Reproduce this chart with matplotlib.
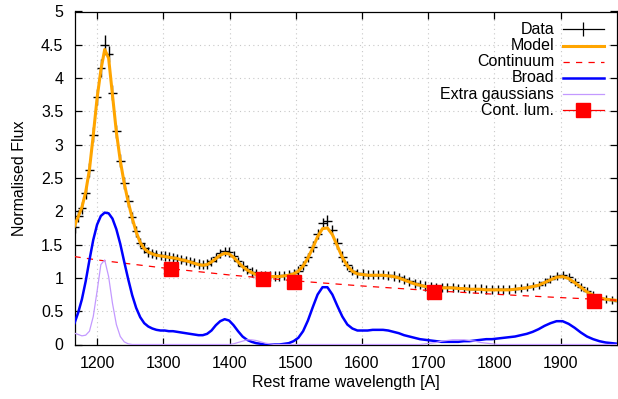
import matplotlib
matplotlib.use("Agg")
import matplotlib.pyplot as plt
from matplotlib.lines import Line2D

# ---------------------------------------------------------------------------
# Data
# ---------------------------------------------------------------------------

wave = [
    1166.0, 1171.6, 1177.2, 1182.9, 1188.6, 1194.3, 1200.1, 1205.8, 1211.6, 1217.5,
    1223.3, 1229.2, 1235.1, 1241.1, 1247.1, 1253.1, 1259.1, 1265.2, 1271.3, 1277.4,
    1283.5, 1289.7, 1295.9, 1302.2, 1308.4, 1314.7, 1321.1, 1327.4, 1333.8, 1340.2,
    1346.7, 1353.2, 1359.7, 1366.2, 1372.8, 1379.4, 1386.0, 1392.7, 1399.4, 1406.1,
    1412.9, 1419.7, 1426.5, 1433.4, 1440.3, 1447.2, 1454.2, 1461.2, 1468.2, 1475.3,
    1482.4, 1489.5, 1496.7, 1503.9, 1511.1, 1518.4, 1525.7, 1533.0, 1540.4, 1547.8,
    1555.3, 1562.8, 1570.3, 1577.9, 1585.5, 1593.1, 1600.8, 1608.5, 1616.2, 1624.0,
    1631.8, 1639.7, 1647.6, 1655.5, 1663.5, 1671.5, 1679.5, 1687.6, 1695.7, 1703.9,
    1712.1, 1720.3, 1728.6, 1736.9, 1745.3, 1753.7, 1762.1, 1770.6, 1779.1, 1787.7,
    1796.3, 1804.9, 1813.6, 1822.3, 1831.1, 1839.9, 1848.8, 1857.7, 1866.6, 1875.6,
    1884.6, 1893.7, 1902.8, 1912.0, 1921.2, 1930.4, 1939.7, 1949.0, 1958.4, 1967.8,
    1977.3, 1986.8,
]

flux = [
    1.77, 1.93, 2.05, 2.28, 2.62, 3.15, 3.72, 4.15, 4.50, 4.36,
    3.78, 3.20, 2.76, 2.42, 2.15, 1.91, 1.70, 1.53, 1.45, 1.39,
    1.37, 1.35, 1.34, 1.33, 1.32, 1.31, 1.29, 1.28, 1.26, 1.25,
    1.23, 1.21, 1.20, 1.21, 1.25, 1.31, 1.37, 1.40, 1.39, 1.33,
    1.25, 1.18, 1.13, 1.09, 1.06, 1.04, 1.03, 1.03, 1.03, 1.03,
    1.04, 1.05, 1.07, 1.11, 1.19, 1.31, 1.47, 1.66, 1.82, 1.86,
    1.72, 1.52, 1.32, 1.19, 1.11, 1.07, 1.06, 1.05, 1.05, 1.05,
    1.05, 1.04, 1.03, 1.01, 0.98, 0.95, 0.92, 0.90, 0.88, 0.87,
    0.86, 0.86, 0.86, 0.86, 0.85, 0.85, 0.84, 0.84, 0.84, 0.83,
    0.83, 0.83, 0.83, 0.83, 0.84, 0.85, 0.86, 0.88, 0.90, 0.94,
    0.98, 1.03, 1.05, 1.01, 0.94, 0.87, 0.80, 0.74, 0.70, 0.68,
    0.67, 0.66,
]

flux_err = [
    0.09, 0.09, 0.09, 0.10, 0.10, 0.11, 0.12, 0.14, 0.14, 0.12,
    0.11, 0.10, 0.10, 0.09, 0.09, 0.08, 0.08, 0.07, 0.07, 0.07,
    0.07, 0.07, 0.07, 0.07, 0.07, 0.07, 0.07, 0.07, 0.07, 0.07,
    0.07, 0.07, 0.07, 0.07, 0.07, 0.07, 0.07, 0.07, 0.07, 0.07,
    0.07, 0.07, 0.07, 0.07, 0.07, 0.07, 0.07, 0.07, 0.07, 0.07,
    0.07, 0.07, 0.07, 0.07, 0.07, 0.07, 0.08, 0.08, 0.08, 0.08,
    0.08, 0.08, 0.08, 0.07, 0.07, 0.07, 0.07, 0.07, 0.07, 0.07,
    0.07, 0.07, 0.07, 0.07, 0.07, 0.07, 0.07, 0.07, 0.07, 0.07,
    0.065, 0.065, 0.065, 0.065, 0.065, 0.065, 0.065, 0.065, 0.065, 0.065,
    0.065, 0.065, 0.065, 0.065, 0.065, 0.06, 0.06, 0.06, 0.06, 0.06,
    0.06, 0.06, 0.06, 0.06, 0.06, 0.06, 0.06, 0.06, 0.06, 0.06,
    0.06, 0.06,
]

model = [
    1.78, 1.92, 2.06, 2.29, 2.63, 3.14, 3.70, 4.12, 4.43, 4.30,
    3.75, 3.19, 2.76, 2.42, 2.14, 1.90, 1.69, 1.53, 1.44, 1.39,
    1.36, 1.34, 1.33, 1.32, 1.31, 1.30, 1.29, 1.27, 1.26, 1.24,
    1.22, 1.20, 1.19, 1.20, 1.24, 1.29, 1.34, 1.37, 1.36, 1.31,
    1.24, 1.17, 1.12, 1.08, 1.05, 1.03, 1.02, 1.02, 1.02, 1.02,
    1.03, 1.04, 1.06, 1.10, 1.18, 1.30, 1.45, 1.62, 1.74, 1.75,
    1.65, 1.48, 1.31, 1.18, 1.10, 1.06, 1.05, 1.04, 1.04, 1.04,
    1.04, 1.03, 1.02, 1.00, 0.97, 0.94, 0.91, 0.89, 0.87, 0.86,
    0.85, 0.85, 0.85, 0.85, 0.84, 0.84, 0.83, 0.83, 0.83, 0.82,
    0.82, 0.82, 0.82, 0.82, 0.83, 0.84, 0.85, 0.87, 0.89, 0.93,
    0.97, 1.01, 1.02, 0.99, 0.93, 0.86, 0.79, 0.74, 0.70, 0.68,
    0.67, 0.66,
]

broad = [
    0.32, 0.48, 0.68, 0.95, 1.27, 1.57, 1.80, 1.93, 1.98, 1.97,
    1.89, 1.73, 1.51, 1.24, 0.98, 0.74, 0.55, 0.41, 0.32, 0.27,
    0.24, 0.22, 0.21, 0.21, 0.20, 0.20, 0.19, 0.18, 0.17, 0.16,
    0.15, 0.14, 0.14, 0.16, 0.21, 0.29, 0.35, 0.38, 0.36, 0.29,
    0.20, 0.12, 0.07, 0.04, 0.02, 0.01, 0.00, 0.00, 0.00, 0.00,
    0.01, 0.02, 0.05, 0.10, 0.20, 0.36, 0.56, 0.75, 0.86, 0.86,
    0.75, 0.58, 0.42, 0.30, 0.24, 0.21, 0.21, 0.21, 0.22, 0.22,
    0.22, 0.21, 0.19, 0.17, 0.14, 0.12, 0.10, 0.08, 0.07, 0.06,
    0.05, 0.04, 0.04, 0.04, 0.04, 0.05, 0.05, 0.06, 0.07, 0.08,
    0.08, 0.09, 0.10, 0.11, 0.12, 0.14, 0.16, 0.19, 0.23, 0.28,
    0.32, 0.35, 0.35, 0.31, 0.25, 0.18, 0.12, 0.08, 0.05, 0.03,
    0.02, 0.01,
]

extra = [
    0.17, 0.15, 0.13, 0.14, 0.20, 0.42, 0.80, 1.20, 1.27, 1.02,
    0.62, 0.30, 0.12, 0.04, 0.01, 0.00, 0.00, 0.00, 0.00, 0.00,
    0.00, 0.00, 0.00, 0.00, 0.00, 0.00, 0.00, 0.00, 0.00, 0.00,
    0.00, 0.00, 0.00, 0.00, 0.00, 0.00, 0.00, 0.00, 0.00, 0.01,
    0.03, 0.05, 0.07, 0.07, 0.06, 0.04, 0.02, 0.01, 0.00, 0.00,
    0.00, 0.00, 0.00, 0.00, 0.00, 0.00, 0.00, 0.00, 0.00, 0.00,
    0.00, 0.00, 0.00, 0.00, 0.00, 0.00, 0.00, 0.00, 0.00, 0.00,
    0.00, 0.00, 0.00, 0.00, 0.00, 0.00, 0.00, 0.00, 0.01, 0.02,
    0.03, 0.05, 0.06, 0.07, 0.07, 0.07, 0.06, 0.05, 0.03, 0.02,
    0.01, 0.00, 0.00, 0.00, 0.00, 0.00, 0.00, 0.00, 0.00, 0.00,
    0.00, 0.00, 0.00, 0.00, 0.00, 0.00, 0.00, 0.00, 0.00, 0.00,
    0.00, 0.00,
]

cont_wave = [1166, 1200, 1300, 1400, 1500, 1600, 1700, 1800, 1900, 1985]
cont_flux = [1.32, 1.27, 1.15, 1.044, 0.955, 0.879, 0.812, 0.755, 0.704, 0.665]

lum_wave = [1311, 1451, 1497, 1708, 1951]
lum_flux = [1.13, 0.98, 0.94, 0.79, 0.66]

xticks = [1200, 1300, 1400, 1500, 1600, 1700, 1800, 1900]
yticks = [0, 0.5, 1, 1.5, 2, 2.5, 3, 3.5, 4, 4.5, 5]
ytick_labels = ["0", "0.5", "1", "1.5", "2", "2.5", "3", "3.5", "4", "4.5", "5"]

# ---------------------------------------------------------------------------
# Figure
# ---------------------------------------------------------------------------

plt.rcParams["font.family"] = ["Liberation Sans", "DejaVu Sans"]
plt.rcParams["font.size"] = 11.5

fig = plt.figure(figsize=(6.18, 3.99), dpi=100)
ax = fig.add_axes([74.5 / 618, 1 - 344.5 / 399, (617 - 74.5) / 618, (344.5 - 11.5) / 399])

ax.errorbar(wave, flux, yerr=flux_err, xerr=6.5, fmt="none",
            ecolor="black", elinewidth=1.0, capsize=0, zorder=3)
ax.plot(wave, model, color="#ffa500", lw=2.2, zorder=4)
ax.plot(cont_wave, cont_flux, color="#ff0000", lw=0.9, ls=(0, (5, 5)), zorder=4)
ax.plot(wave, broad, color="#0000ff", lw=1.8, zorder=4)
ax.plot(wave, extra, color="#c399ff", lw=0.9, zorder=4)
ax.plot(lum_wave, lum_flux, ls="none", marker="s", ms=9.5,
        color="#ff0000", mec="#ff0000", zorder=5)

ax.set_xlim(1166, 1985)
ax.set_ylim(0, 5)
ax.set_xticks(xticks)
ax.set_yticks(yticks)
ax.set_yticklabels(ytick_labels)
ax.tick_params(direction="in", length=5, width=0.9, top=True, right=True, pad=8)
ax.grid(True, color="#c8c8c8", ls=(0, (1, 3)), lw=0.8)
for side in ax.spines.values():
    side.set_linewidth(0.9)

ax.set_xlabel("Rest frame wavelength [A]", labelpad=3)
ax.set_ylabel("Normalised Flux", labelpad=10)

# gnuplot-style key: labels right-aligned, sample to the right
key = [
    ("Data", dict(color="black", lw=0.9, marker="|", ms=10, mew=0.9)),
    ("Model", dict(color="#ffa500", lw=2.2)),
    ("Continuum", dict(color="#ff0000", lw=0.9, ls=(0, (5, 5)))),
    ("Broad", dict(color="#0000ff", lw=1.8)),
    ("Extra gaussians", dict(color="#c399ff", lw=0.9)),
    ("Cont. lum.", dict(color="#ff0000", lw=0.9, marker="s", ms=9.5)),
]
for k, (label, style) in enumerate(key):
    y = 0.946 - k * 0.0485
    ax.text(0.884, y, label, transform=ax.transAxes, ha="right", va="center")
    xs = [0.900, 0.938, 0.976]
    ax.add_line(Line2D(xs, [y, y, y], transform=ax.transAxes,
                       markevery=[1], **style))

fig.savefig("out.png", dpi=100)
